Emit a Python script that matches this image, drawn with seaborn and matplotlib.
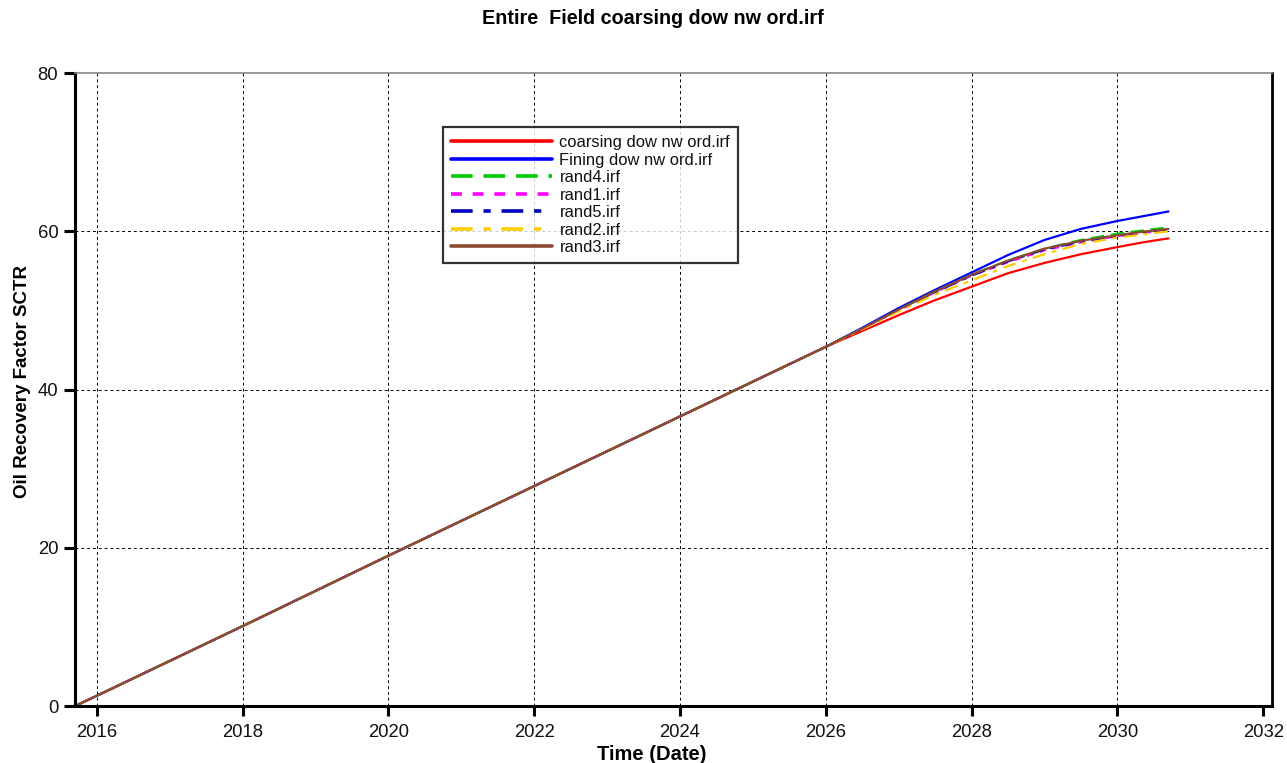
import matplotlib
matplotlib.use("Agg")
import matplotlib.pyplot as plt
import seaborn as sns
import pandas as pd

# Time axis in decimal years
time = [2015.7, 2016.0, 2018.0, 2020.0, 2022.0, 2024.0, 2026.0,
        2026.5, 2027.0, 2027.5, 2028.0, 2028.5, 2029.0, 2029.5,
        2030.0, 2030.35, 2030.7]

# Common history (identical for all runs up to 2026)
history = [0.0, 1.3, 10.1, 19.0, 27.8, 36.6, 45.4]

coarsing = history + [47.4, 49.4, 51.3, 53.0, 54.7, 56.0, 57.1, 58.0, 58.6, 59.1]
fining = history + [47.8, 50.3, 52.6, 54.8, 57.0, 58.9, 60.3, 61.3, 61.9, 62.5]
rand4 = history + [47.7, 50.1, 52.4, 54.5, 56.3, 57.8, 58.9, 59.7, 60.1, 60.5]
rand1 = history + [47.7, 50.0, 52.3, 54.4, 56.1, 57.6, 58.6, 59.4, 59.8, 60.2]
rand5 = history + [47.7, 50.1, 52.3, 54.4, 56.2, 57.7, 58.7, 59.4, 59.9, 60.2]
rand2 = history + [47.6, 49.9, 52.0, 53.8, 55.6, 57.1, 58.4, 59.2, 59.6, 60.0]
rand3 = history + [47.7, 50.1, 52.4, 54.5, 56.3, 57.8, 58.8, 59.5, 59.95, 60.3]

labels = ["coarsing dow nw ord.irf", "Fining dow nw ord.irf", "rand4.irf",
          "rand1.irf", "rand5.irf", "rand2.irf", "rand3.irf"]
series = [coarsing, fining, rand4, rand1, rand5, rand2, rand3]
colors = ["#ff0000", "#0000ff", "#00cc00", "#ff00ff", "#0000bb", "#ffcc00", "#8b4a32"]
styles = ["-", "-", (0, (6, 3)), (0, (3, 3)), (0, (6, 3, 2, 3)), (0, (6, 3, 2, 3)), "-"]

xticks = [2016, 2018, 2020, 2022, 2024, 2026, 2028, 2030, 2032]
yticks = [0, 20, 40, 60, 80]

sns.set_style("white")
plt.rcParams["font.family"] = ["Liberation Sans", "DejaVu Sans"]
plt.rcParams["text.color"] = "black"
plt.rcParams["axes.labelcolor"] = "black"
plt.rcParams["xtick.color"] = "black"
plt.rcParams["ytick.color"] = "black"

fig = plt.figure(figsize=(12.87, 7.63), dpi=100)
ax = fig.add_axes([0.0583, 0.0747, 0.93, 0.8296])

for vals, lab, col, ls in zip(series, labels, colors, styles):
    df = pd.DataFrame({"t": time, "v": vals})
    sns.lineplot(data=df, x="t", y="v", ax=ax, color=col, linestyle=ls,
                 linewidth=1.6, label=lab)

ax.set_xlim(2015.7, 2032.12)
ax.set_ylim(0, 80)
ax.set_xticks(xticks)
ax.set_xticklabels([str(t) for t in xticks])
ax.set_yticks(yticks)
ax.set_yticklabels([str(t) for t in yticks])

# dotted grid for the inner ticks only
for xv in xticks[:-1]:
    ax.axvline(xv, color="black", linestyle=(0, (3, 3)), linewidth=0.7, zorder=0.5)
for yv in yticks[1:-1]:
    ax.axhline(yv, color="black", linestyle=(0, (3, 3)), linewidth=0.7, zorder=0.5)

ax.tick_params(axis="x", direction="out", length=7, width=2.2, pad=6,
               labelsize=13.3, color="black", labelcolor="#111111", bottom=True)
ax.tick_params(axis="y", direction="out", length=8, width=2.2, pad=4,
               labelsize=13.3, color="black", labelcolor="#111111", left=True)

for side in ["left", "bottom"]:
    ax.spines[side].set_color("black")
    ax.spines[side].set_linewidth(2.2)
ax.spines["right"].set_color("black")
ax.spines["right"].set_linewidth(2.0)
ax.spines["top"].set_color("#888888")
ax.spines["top"].set_linewidth(1.2)

ax.set_xlabel("Time (Date)", fontsize=14.5, fontweight="bold", color="black")
ax.xaxis.set_label_coords(0.482, -0.061)
ax.set_ylabel("Oil Recovery Factor SCTR", fontsize=13.5, fontweight="bold", color="black")
ax.yaxis.set_label_coords(-0.037, 0.513)
fig.text(0.507, 0.976, "Entire  Field coarsing dow nw ord.irf", ha="center", va="center",
         fontsize=14.2, fontweight="bold", color="black")

leg = ax.legend(loc="upper left", bbox_to_anchor=(0.3074, 0.9147), fontsize=11.9,
                handlelength=6.1, handletextpad=0.45, labelspacing=0.15,
                borderpad=0.5, frameon=True, fancybox=False, borderaxespad=0)
leg.get_frame().set_edgecolor("black")
leg.get_frame().set_linewidth(1.6)
for h in leg.get_lines():
    h.set_linewidth(2.6)
for t in leg.get_texts():
    t.set_color("#111111")

fig.savefig("out.png", dpi=100)
